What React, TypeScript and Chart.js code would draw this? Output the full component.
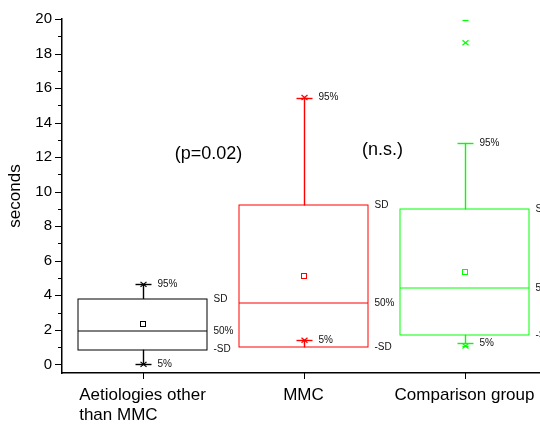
import React, { useEffect, useRef } from 'react';
import { Chart, registerables } from 'chart.js';

Chart.register(...registerables);

const FONT = "'Liberation Sans', Arial, Helvetica, sans-serif";

// ---- data ----
const categories: string[][] = [['Aetiologies other', 'than MMC'], ['MMC'], ['Comparison group']];
const seriesColors = ['#000000', '#ff0000', '#00ff00'];
const sdUpper = [3.79, 9.2, 8.97];
const median = [1.94, 3.56, 4.42];
const sdLower = [0.85, 0.98, 1.71];
const mean = [2.32, 5.09, 5.34];
const pct95 = [4.63, 15.45, 12.83];
const pct5 = [0.0, 1.4, 1.23];
const pct99 = [4.63, 15.45, 18.62];
const pct1 = [0.0, 1.4, 1.06];
const maxVal = [4.63, 15.45, 19.95];
const minVal = [0.0, 1.4, 1.06];
const yTickValues = [0, 1, 2, 3, 4, 5, 6, 7, 8, 9, 10, 11, 12, 13, 14, 15, 16, 17, 18, 19, 20];
const yLabelStep = 2;
const boxLabelTexts = { sdHi: 'SD', mid: '50%', sdLo: '-SD', hi: '95%', lo: '5%' };
const notes = ['(p=0.02)', '(n.s.)'];
const noteX = [0.41, 1.49];
const noteY = [12.2, 12.4];

const boxPlugin = {
  id: 'boxPlots',
  afterDraw(chart: any) {
    const { ctx, chartArea } = chart;
    const xs = chart.scales.x;
    const ys = chart.scales.y;
    const px = (v: number) => xs.getPixelForValue(v);
    const py = (v: number) => ys.getPixelForValue(v);
    const crisp = (v: number) => Math.round(v) + 0.5;
    const line = (x1: number, y1: number, x2: number, y2: number) => {
      ctx.beginPath();
      ctx.moveTo(x1, y1);
      ctx.lineTo(x2, y2);
      ctx.stroke();
    };
    ctx.save();
    ctx.lineWidth = 1;
    ctx.strokeStyle = '#000';
    // y tick marks (major + minor)
    yTickValues.forEach((v) => {
      const len = v % yLabelStep === 0 ? 7 : 4;
      const yy = crisp(py(v));
      line(chartArea.left - len, yy, chartArea.left, yy);
    });
    // x tick marks
    categories.forEach((_, i) => {
      const xx = crisp(px(i));
      line(xx, chartArea.bottom, xx, chartArea.bottom + 6);
    });
    // category labels
    ctx.font = `17px ${FONT}`;
    ctx.fillStyle = '#000';
    ctx.textBaseline = 'alphabetic';
    ctx.textAlign = 'left';
    categories.forEach((lines, i) => {
      const cx = px(i);
      const w = ctx.measureText(lines[0]).width;
      const left = cx - w / 2;
      lines.forEach((t, j) => ctx.fillText(t, left, chartArea.bottom + 27 + j * 20));
    });
    // boxes
    categories.forEach((_, i) => {
      const color = seriesColors[i];
      const cx = px(i);
      const half = px(i + 0.4) - cx;
      const xl = Math.round(cx - half);
      const xr = Math.round(cx + half);
      const yt = Math.round(py(sdUpper[i]));
      const yb = Math.round(py(sdLower[i]));
      const ym = Math.round(py(median[i]));
      ctx.strokeStyle = color;
      ctx.lineWidth = 1;
      ctx.strokeRect(xl, yt, xr - xl, yb - yt);
      line(xl, ym, xr, ym);
      const xc = crisp(cx);
      ctx.lineWidth = 1.4;
      line(xc, py(sdUpper[i]), xc, py(pct95[i]));
      line(xc, py(sdLower[i]), xc, py(pct5[i]));
      [pct95[i], pct5[i]].forEach((v) => {
        const yy = crisp(py(v));
        line(xc - 8, yy, xc + 8, yy);
      });
      ctx.lineWidth = 1.2;
      [pct99[i], pct1[i]].forEach((v) => {
        const yy = py(v);
        line(xc - 3, yy - 2.5, xc + 3, yy + 2.5);
        line(xc - 3, yy + 2.5, xc + 3, yy - 2.5);
      });
      [maxVal[i], minVal[i]].forEach((v) => {
        const yy = crisp(py(v));
        line(xc - 3, yy, xc + 3, yy);
      });
      ctx.lineWidth = 1;
      ctx.strokeRect(Math.round(cx) - 2.5, Math.round(py(mean[i])) - 2.5, 5, 5);
      // labels
      ctx.fillStyle = '#111';
      ctx.font = `10px ${FONT}`;
      ctx.textAlign = 'left';
      ctx.textBaseline = 'middle';
      ctx.fillText(boxLabelTexts.hi, cx + 15, py(pct95[i]));
      ctx.fillText(boxLabelTexts.lo, cx + 15, py(pct5[i]));
      ctx.fillText(boxLabelTexts.sdHi, xr + 6.5, py(sdUpper[i]));
      ctx.fillText(boxLabelTexts.mid, xr + 6.5, py(median[i]));
      ctx.fillText(boxLabelTexts.sdLo, xr + 6.5, py(sdLower[i]));
    });
    // annotations
    ctx.fillStyle = '#000';
    ctx.font = `18px ${FONT}`;
    ctx.textAlign = 'center';
    ctx.textBaseline = 'middle';
    notes.forEach((t, i) => ctx.fillText(t, px(noteX[i]), py(noteY[i])));
    ctx.restore();
  },
};

export default function App() {
  const ref = useRef<HTMLCanvasElement | null>(null);
  useEffect(() => {
    if (!ref.current) return;
    const chart = new Chart(ref.current, {
      type: 'scatter',
      data: { datasets: [] },
      options: {
        animation: false,
        responsive: false,
        devicePixelRatio: 1,
        layout: { padding: { top: 15, right: 15, left: 0, bottom: 0 } },
        plugins: { legend: { display: false }, tooltip: { enabled: false }, title: { display: false } },
        scales: {
          x: {
            type: 'linear',
            min: -0.5,
            max: 2.5,
            grid: { display: false, drawTicks: false },
            border: { display: true, color: '#000', width: 1.5 },
            ticks: { display: false },
            afterFit: (s: any) => { s.height = 52; },
          },
          y: {
            type: 'linear',
            min: -0.5,
            max: 20,
            afterBuildTicks: (s: any) => {
              s.ticks = yTickValues.filter((v) => v % yLabelStep === 0).map((v) => ({ value: v }));
            },
            grid: { display: false, drawTicks: false },
            border: { display: true, color: '#000', width: 1.5 },
            ticks: { color: '#000', font: { size: 15, family: FONT }, padding: 10 },
            title: {
              display: true,
              text: 'seconds',
              color: '#000',
              font: { size: 17, family: FONT },
              padding: { top: 5, bottom: 0 },
            },
            afterFit: (s: any) => { s.width = 62; },
          },
        },
      },
      plugins: [boxPlugin],
    } as any);
    return () => chart.destroy();
  }, []);
  return (
    <div style={{ position: 'fixed', left: 0, top: 0, width: 540, height: 425, overflow: 'hidden', background: '#fff' }}>
      <canvas ref={ref} width={560} height={425} style={{ display: 'block' }} />
    </div>
  );
}
